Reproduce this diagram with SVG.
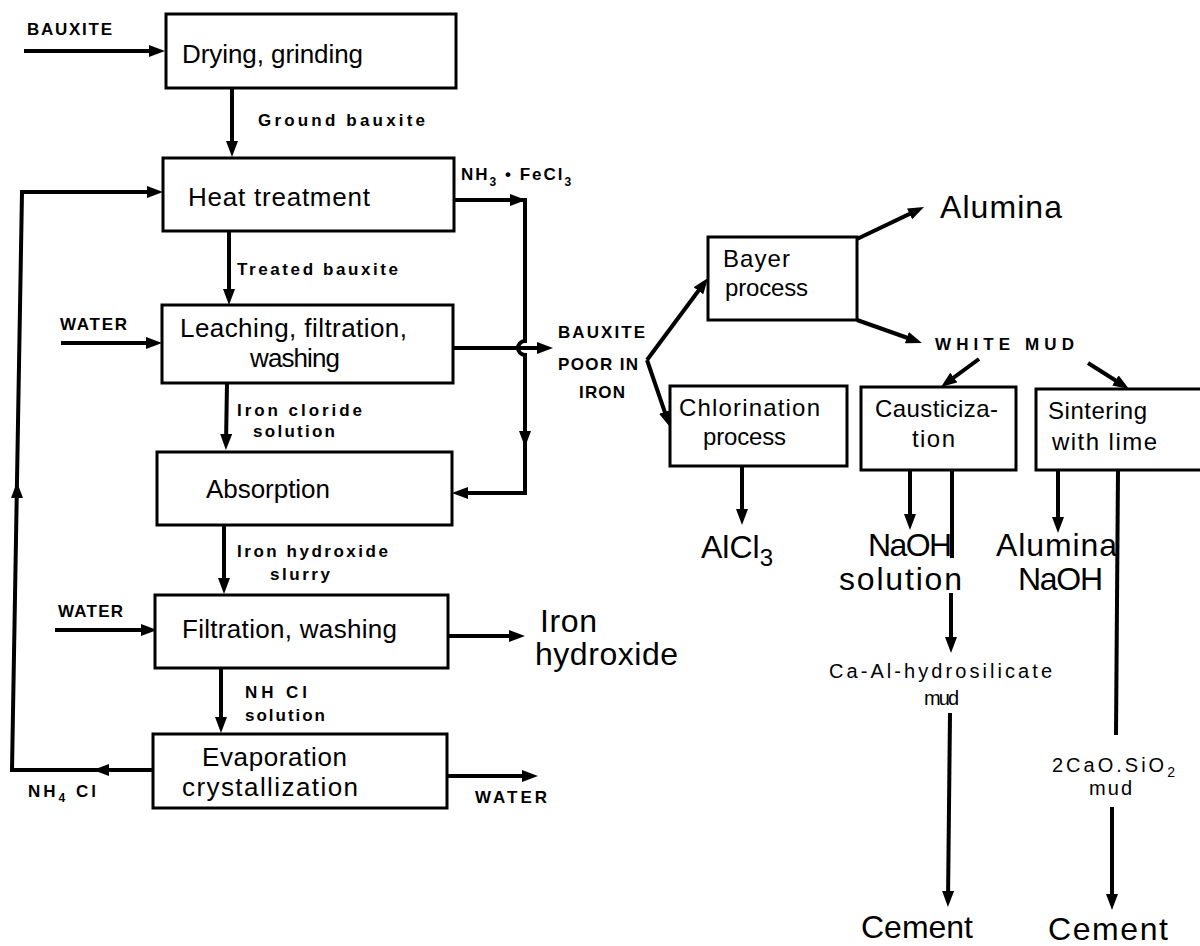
<svg xmlns="http://www.w3.org/2000/svg" width="1200" height="946" viewBox="0 0 1200 946">
<style>
.box{fill:#fff;stroke:#000;stroke-width:3}
.ln{fill:none;stroke:#000;stroke-width:4;stroke-linejoin:miter}
.ar{marker-end:url(#ah)}
.hd{fill:#000}
text{font-family:"Liberation Sans",Arial,sans-serif;fill:#000}
.bx{font-size:26px}
.bx2{font-size:24px}
.lb{font-size:17px;font-weight:bold}
.md{font-size:20px}
.lg{font-size:32px}
</style>
<defs>
<marker id="ah" markerUnits="userSpaceOnUse" markerWidth="16" markerHeight="12" refX="10" refY="6" orient="auto">
<path d="M0,0 L16,6 L0,12 z" fill="#000"/>
</marker>
</defs>
<rect width="1200" height="946" fill="#fff"/>

<g id="connectors">
<path class="ln ar" d="M24,51 H159"/>
<path class="ln ar" d="M232,88 V151"/>
<path class="ln ar" d="M454,200 H525 V341 A7,7 0 0 0 525,355 V493 H458"/>
<polygon class="hd" points="510,194 526,200 510,206"/>
<polygon class="hd" points="519,431 525,447 531,431"/>
<path class="ln ar" d="M153,770 H12 L22,192 H157"/>
<polygon class="hd" points="109,764 93,770 109,776"/>
<polygon class="hd" points="11,498 17,482 23,498"/>
<path class="ln ar" d="M229,231 V299"/>
<path class="ln ar" d="M61,343 H156"/>
<path class="ln ar" d="M453,348 H547"/>
<path class="ln ar" d="M227,383 L226,444"/>
<path class="ln ar" d="M224,525 V588"/>
<path class="ln ar" d="M55,630 H151"/>
<path class="ln ar" d="M447,636 H519"/>
<path class="ln ar" d="M221,668 V727"/>
<path class="ln ar" d="M447,776 H532"/>
<path class="ln ar" d="M647,360 L704.4,282.8"/>
<path class="ln ar" d="M647,360 L668,421.3"/>
<path class="ln ar" d="M857,239 L918.6,209.6"/>
<path class="ln ar" d="M857,320 L916.3,341"/>
<path class="ln ar" d="M979,359 L945.8,383.4"/>
<path class="ln ar" d="M1088,363 L1123.9,385.8"/>
<path class="ln ar" d="M742,466 V519"/>
<path class="ln ar" d="M910,470 V524"/>
<path class="ln" d="M952,470 V558"/>
<path class="ln ar" d="M951,593 V647"/>
<path class="ln ar" d="M950,713 L948,901"/>
<path class="ln ar" d="M1058,470 V527"/>
<path class="ln" d="M1118,470 L1116,735"/>
<path class="ln ar" d="M1112,807 V904"/>
</g>

<g id="labels">
<text class="lb" x="27" y="35" textLength="85" lengthAdjust="spacing">BAUXITE</text>
<text class="lb" x="258" y="126" textLength="167" lengthAdjust="spacing">Ground bauxite</text>
<text class="lb" x="461" y="180" letter-spacing="2">NH<tspan dy="6" font-size="12">3</tspan><tspan dy="-6"> • FeCl</tspan><tspan dy="6" font-size="12">3</tspan></text>
<text class="lb" x="237" y="275" textLength="161" lengthAdjust="spacing">Treated bauxite</text>
<text class="lb" x="60" y="330" textLength="67" lengthAdjust="spacing">WATER</text>
<text class="lb" x="237" y="416" textLength="125" lengthAdjust="spacing">Iron cloride</text>
<text class="lb" x="253" y="437" textLength="82" lengthAdjust="spacing">solution</text>
<text class="lb" x="237" y="557" textLength="151" lengthAdjust="spacing">Iron hydroxide</text>
<text class="lb" x="270" y="580" textLength="60" lengthAdjust="spacing">slurry</text>
<text class="lb" x="58" y="617" textLength="65" lengthAdjust="spacing">WATER</text>
<text class="lb" x="245" y="698" textLength="62" lengthAdjust="spacing">NH Cl</text>
<text class="lb" x="245" y="721" textLength="80" lengthAdjust="spacing">solution</text>
<text class="lb" x="28" y="797" letter-spacing="3">NH<tspan dy="5" font-size="12">4</tspan><tspan dy="-5"> Cl</tspan></text>
<text class="lb" x="475" y="803" textLength="72" lengthAdjust="spacing">WATER</text>
<text class="lb" x="558" y="338" textLength="87" lengthAdjust="spacing">BAUXITE</text>
<text class="lb" x="558" y="370" textLength="80" lengthAdjust="spacing">POOR IN</text>
<text class="lb" x="579" y="398" textLength="46" lengthAdjust="spacing">IRON</text>
<text class="lb" x="935" y="350" textLength="139" lengthAdjust="spacing">WHITE MUD</text>
<text class="lg" x="540" y="632" textLength="57" lengthAdjust="spacing">Iron</text>
<text class="lg" x="535" y="665" textLength="143" lengthAdjust="spacing">hydroxide</text>
<text class="lg" x="940" y="218" font-size="34" textLength="122" lengthAdjust="spacing">Alumina</text>
<text class="lg" x="701" y="558" font-size="34">AlCl<tspan dy="8" font-size="24">3</tspan></text>
<text class="lg" x="868" y="556" font-size="30" textLength="84" lengthAdjust="spacing">NaOH</text>
<text class="lg" x="839" y="590" font-size="30" textLength="123" lengthAdjust="spacing">solution</text>
<text class="lg" x="996" y="556" font-size="30" textLength="121" lengthAdjust="spacing">Alumina</text>
<text class="lg" x="1018" y="590" font-size="30" textLength="85" lengthAdjust="spacing">NaOH</text>
<text class="md" x="829" y="678" textLength="223" lengthAdjust="spacing">Ca-Al-hydrosilicate</text>
<text class="md" x="924" y="705" textLength="35" lengthAdjust="spacing">mud</text>
<text class="md" x="1052" y="772" letter-spacing="3">2CaO.SiO<tspan dy="5" font-size="14">2</tspan></text>
<text class="md" x="1089" y="795" textLength="43" lengthAdjust="spacing">mud</text>
<text class="lg" x="861" y="938" font-size="30" textLength="112" lengthAdjust="spacing">Cement</text>
<text class="lg" x="1048" y="940" font-size="30" textLength="120" lengthAdjust="spacing">Cement</text>
</g>

<g id="drying"><rect class="box" x="166" y="14" width="290" height="74"/>
<text class="bx" x="182" y="63" textLength="181" lengthAdjust="spacing">Drying, grinding</text></g>
<g id="heat"><rect class="box" x="163" y="158" width="291" height="73"/>
<text class="bx" x="188" y="206" textLength="182" lengthAdjust="spacing">Heat treatment</text></g>
<g id="leaching"><rect class="box" x="162" y="305" width="291" height="78"/>
<text class="bx" x="180" y="337" textLength="227" lengthAdjust="spacing">Leaching, filtration,</text>
<text class="bx" x="250" y="367" textLength="90" lengthAdjust="spacing">washing</text></g>
<g id="absorption"><rect class="box" x="157" y="452" width="295" height="73"/>
<text class="bx" x="206" y="498" textLength="124" lengthAdjust="spacing">Absorption</text></g>
<g id="filtration"><rect class="box" x="155" y="595" width="293" height="73"/>
<text class="bx" x="182" y="638" textLength="215" lengthAdjust="spacing">Filtration, washing</text></g>
<g id="evaporation"><rect class="box" x="153" y="734" width="294" height="74"/>
<text class="bx" x="202" y="766" textLength="145" lengthAdjust="spacing">Evaporation</text>
<text class="bx" x="182" y="796" textLength="176" lengthAdjust="spacing">crystallization</text></g>
<g id="bayer"><rect class="box" x="708" y="237" width="149" height="83"/>
<text class="bx2" x="723" y="267" textLength="67" lengthAdjust="spacing">Bayer</text>
<text class="bx2" x="725" y="296" textLength="83" lengthAdjust="spacing">process</text></g>
<g id="chlorination"><rect class="box" x="670" y="386" width="177" height="80"/>
<text class="bx2" x="679" y="416" textLength="141" lengthAdjust="spacing">Chlorination</text>
<text class="bx2" x="703" y="445" textLength="83" lengthAdjust="spacing">process</text></g>
<g id="causticization"><rect class="box" x="861" y="387" width="155" height="83"/>
<text class="bx2" x="875" y="417" textLength="123" lengthAdjust="spacing">Causticiza-</text>
<text class="bx2" x="912" y="447" textLength="43" lengthAdjust="spacing">tion</text></g>
<g id="sintering"><rect class="box" x="1036" y="389" width="170" height="81"/>
<text class="bx2" x="1048" y="419" textLength="99" lengthAdjust="spacing">Sintering</text>
<text class="bx2" x="1052" y="450" textLength="105" lengthAdjust="spacing">with lime</text></g>
</svg>
